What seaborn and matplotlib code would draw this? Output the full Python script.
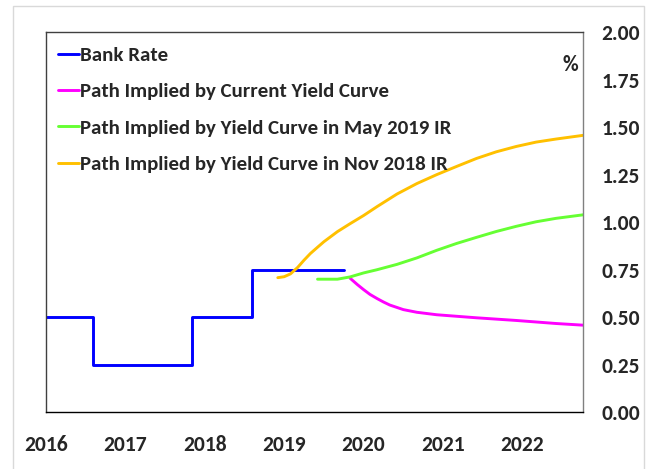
import numpy as np
import pandas as pd
import matplotlib
matplotlib.use("Agg")
import matplotlib.pyplot as plt
import seaborn as sns
from matplotlib.patches import Rectangle

# Bank Rate (step series), decimal years
bank_dates = [2016.0, 2016.59, 2017.84, 2018.59, 2019.75]
bank_rate = [0.50, 0.25, 0.50, 0.75, 0.75]

# Market-implied paths
nov18_dates = [2018.92, 2019.0, 2019.08, 2019.17, 2019.25, 2019.33, 2019.42, 2019.5,
               2019.67, 2019.83, 2020.0, 2020.17, 2020.42, 2020.67, 2020.92, 2021.17,
               2021.42, 2021.67, 2021.92, 2022.17, 2022.42, 2022.77]
nov18_path = [0.708, 0.713, 0.728, 0.762, 0.800, 0.835, 0.868, 0.897,
              0.950, 0.992, 1.035, 1.082, 1.148, 1.203, 1.250, 1.293,
              1.335, 1.370, 1.398, 1.421, 1.437, 1.457]

may19_dates = [2019.42, 2019.67, 2019.83, 2020.0, 2020.17, 2020.42, 2020.67, 2020.92,
               2021.17, 2021.42, 2021.67, 2021.92, 2022.17, 2022.42, 2022.77]
may19_path = [0.700, 0.700, 0.712, 0.733, 0.750, 0.778, 0.812, 0.852,
              0.888, 0.920, 0.951, 0.978, 1.002, 1.020, 1.039]

curr_dates = [2019.83, 2019.92, 2020.0, 2020.08, 2020.17, 2020.25, 2020.33, 2020.5,
              2020.67, 2020.92, 2021.17, 2021.42, 2021.67, 2021.92, 2022.17, 2022.42, 2022.77]
curr_path = [0.705, 0.672, 0.645, 0.620, 0.598, 0.580, 0.564, 0.540,
             0.526, 0.513, 0.505, 0.497, 0.490, 0.483, 0.475, 0.467, 0.458]

year_ticks = [2016, 2017, 2018, 2019, 2020, 2021, 2022]
y_ticks = [0.0, 0.25, 0.5, 0.75, 1.0, 1.25, 1.5, 1.75, 2.0]

names = ["Bank Rate", "Path Implied by Current Yield Curve",
         "Path Implied by Yield Curve in May 2019 IR",
         "Path Implied by Yield Curve in Nov 2018 IR"]
colors = ["#0000FF", "#FF00FF", "#66FF33", "#FFC000"]

sns.set_style("white")
plt.rcParams["font.family"] = ["Carlito", "Lato", "DejaVu Sans"]
plt.rcParams["font.weight"] = "bold"

W, H = 647, 469
fig = plt.figure(figsize=(W / 100, H / 100), dpi=100)
ax = fig.add_axes([45.7 / W, 1 - 412.3 / H, (583 - 45.7) / W, (412.3 - 32) / H])

paths = pd.concat([
    pd.DataFrame({"date": curr_dates, "rate": curr_path, "series": names[1]}),
    pd.DataFrame({"date": may19_dates, "rate": may19_path, "series": names[2]}),
    pd.DataFrame({"date": nov18_dates, "rate": nov18_path, "series": names[3]}),
])
bank = pd.DataFrame({"date": bank_dates, "rate": bank_rate})

lw = 2.1
sns.lineplot(data=bank, x="date", y="rate", color=colors[0], lw=lw,
             drawstyle="steps-post", ax=ax, label=names[0])
sns.lineplot(data=paths, x="date", y="rate", hue="series", hue_order=names[1:],
             palette=colors[1:], lw=lw, ax=ax)

ax.set_xlim(2016.0, 2022.76)
ax.set_ylim(0, 2.0)
ax.set_xlabel("")
ax.set_ylabel("")
ax.yaxis.tick_right()
ax.set_yticks(y_ticks)
ax.set_yticklabels([f"{v:.2f}" for v in y_ticks])
ax.set_xticks(year_ticks)
ax.set_xticklabels([str(y) for y in year_ticks])
ax.tick_params(axis="y", length=0, pad=13, labelsize=15.5)
ax.tick_params(axis="x", length=0, pad=16.5, labelsize=15.5)
for lab in ax.get_xticklabels() + ax.get_yticklabels():
    lab.set_fontweight("bold")

ax.spines["top"].set_color("#404040")
ax.spines["left"].set_color("#404040")
ax.spines["right"].set_color("#808080")
ax.spines["bottom"].set_color("#000000")
for s in ax.spines.values():
    s.set_linewidth(1.0)
    s.set_visible(True)

handles, labels = ax.get_legend_handles_labels()
order = [labels.index(n) for n in names]
leg = ax.legend([handles[i] for i in order], [labels[i] for i in order],
                loc="upper left", bbox_to_anchor=(0.0229, 0.962), frameon=False,
                borderpad=0, borderaxespad=0,
                handlelength=1.0, handletextpad=0.05, labelspacing=0.9,
                prop={"size": 15, "weight": "bold"})

fig.text(570 / W, 1 - 65 / H, "%", ha="center", va="center", fontsize=15.5, fontweight="bold")

fig.patches.append(Rectangle((12.5, -5), 644 - 12.5, 469 - 6 + 5, transform=None,
                             fill=False, edgecolor="#D9D9D9", lw=1.0))

fig.savefig("out.png", dpi=100)
